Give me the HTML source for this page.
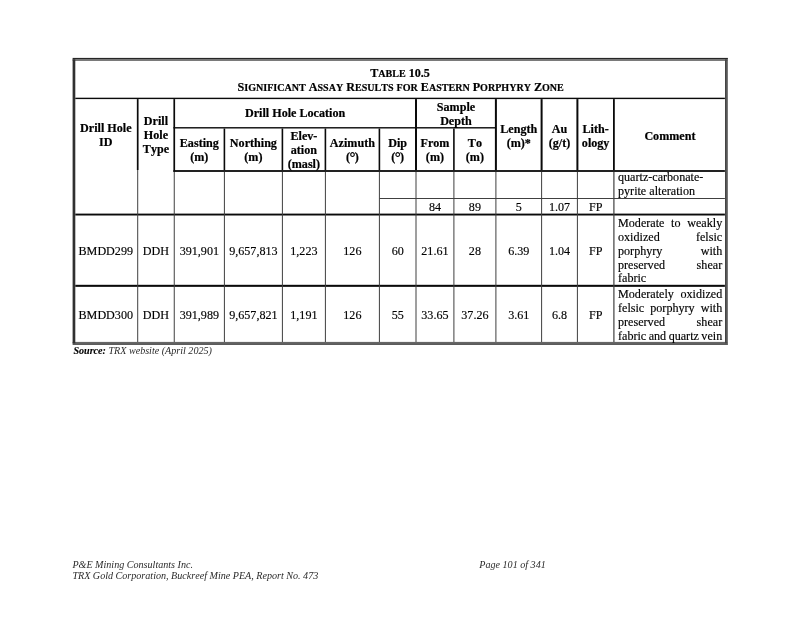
<!DOCTYPE html>
<html lang="en"><head><meta charset="utf-8"><title>Table 10.5</title><style>
html,body{margin:0;padding:0;background:#fff}
body{width:800px;height:618px;position:relative;overflow:hidden;font-family:"Liberation Serif",serif;font-size:12.12px;line-height:14px;color:#000;font-kerning:none;-webkit-text-stroke:0.15px #000}
svg{position:absolute;left:0;top:0}
.c{position:absolute;height:14px;text-align:center;white-space:nowrap}
.b{font-weight:bold;color:#000;-webkit-text-stroke:0.2px #000}
.s{font-size:10.05px}
.cm{position:absolute;height:14px;white-space:nowrap}
.j{text-align:justify;text-align-last:justify;white-space:normal}
.sq{word-spacing:-0.57px}
.f{position:absolute;font-size:10.1px;line-height:11px;height:11px;font-style:italic;white-space:nowrap;color:#2a2a2a;-webkit-text-stroke:0}
.f b{color:#000;-webkit-text-stroke:0.1px #000}
.dg{font-size:15px;line-height:0;position:relative;top:1.3px;margin:0 -0.6px}
</style></head>
<body>
<svg width="800" height="618" viewBox="0 0 800 618">
<rect x="72.60" y="57.90" width="655.30" height="1.40" fill="#262626"/>
<rect x="72.60" y="59.30" width="655.30" height="1.50" fill="#5a5a5a"/>
<rect x="72.60" y="341.90" width="655.30" height="1.40" fill="#666"/>
<rect x="72.60" y="343.30" width="655.30" height="1.50" fill="#333"/>
<rect x="72.60" y="59.30" width="2.70" height="284.00" fill="#303030"/>
<rect x="725.00" y="59.30" width="1.90" height="284.00" fill="#444"/>
<rect x="726.90" y="59.30" width="1.00" height="284.00" fill="#6a6a6a"/>
<rect x="75.30" y="97.70" width="649.60" height="1.40" fill="#0a0a0a"/>
<rect x="173.40" y="127.10" width="322.50" height="1.40" fill="#0a0a0a"/>
<rect x="173.40" y="170.10" width="551.50" height="1.80" fill="#0a0a0a"/>
<rect x="379.40" y="198.00" width="345.50" height="1.00" fill="#404040"/>
<rect x="75.30" y="213.60" width="649.60" height="1.90" fill="#0a0a0a"/>
<rect x="75.30" y="284.80" width="649.60" height="2.05" fill="#0a0a0a"/>
<rect x="136.85" y="99.10" width="1.70" height="70.90" fill="#0a0a0a"/>
<rect x="173.40" y="99.10" width="1.70" height="72.80" fill="#0a0a0a"/>
<rect x="223.60" y="128.50" width="1.60" height="41.60" fill="#0a0a0a"/>
<rect x="281.60" y="128.50" width="1.60" height="41.60" fill="#0a0a0a"/>
<rect x="324.60" y="128.50" width="1.60" height="41.60" fill="#0a0a0a"/>
<rect x="378.60" y="128.50" width="1.60" height="41.60" fill="#0a0a0a"/>
<rect x="453.10" y="128.50" width="1.60" height="41.60" fill="#0a0a0a"/>
<rect x="415.00" y="99.10" width="2.00" height="71.00" fill="#0a0a0a"/>
<rect x="494.90" y="99.10" width="2.00" height="71.00" fill="#0a0a0a"/>
<rect x="540.60" y="99.10" width="2.00" height="71.00" fill="#0a0a0a"/>
<rect x="576.40" y="99.10" width="2.00" height="71.00" fill="#0a0a0a"/>
<rect x="613.00" y="99.10" width="1.80" height="71.00" fill="#0a0a0a"/>
<rect x="137.20" y="170.00" width="1.00" height="172.00" fill="#404040"/>
<rect x="173.75" y="171.90" width="1.00" height="170.10" fill="#404040"/>
<rect x="223.90" y="171.90" width="1.00" height="170.10" fill="#404040"/>
<rect x="281.90" y="171.90" width="1.00" height="170.10" fill="#404040"/>
<rect x="324.90" y="171.90" width="1.00" height="170.10" fill="#404040"/>
<rect x="378.90" y="171.90" width="1.00" height="170.10" fill="#404040"/>
<rect x="415.50" y="171.90" width="1.00" height="170.10" fill="#404040"/>
<rect x="453.40" y="171.90" width="1.00" height="170.10" fill="#404040"/>
<rect x="495.40" y="171.90" width="1.00" height="170.10" fill="#404040"/>
<rect x="541.10" y="171.90" width="1.00" height="170.10" fill="#404040"/>
<rect x="576.90" y="171.90" width="1.00" height="170.10" fill="#404040"/>
<rect x="613.30" y="171.90" width="1.20" height="170.10" fill="#404040"/>
</svg>
<div class="c b" style="left:75.30px;top:66px;width:649.60px">T<span class="s">ABLE</span> 10.5</div>
<div class="c b" style="left:76.50px;top:80px;width:648.40px">S<span class="s">IGNIFICANT</span> A<span class="s">SSAY</span> R<span class="s">ESULTS</span> <span class="s">FOR</span> E<span class="s">ASTERN</span> P<span class="s">ORPHYRY</span> Z<span class="s">ONE</span></div>
<div class="c b" style="left:73.90px;top:121px;width:63.80px">Drill Hole</div>
<div class="c b" style="left:73.90px;top:135px;width:63.80px">ID</div>
<div class="c b" style="left:137.70px;top:114px;width:36.55px">Drill</div>
<div class="c b" style="left:137.70px;top:128px;width:36.55px">Hole</div>
<div class="c b" style="left:137.70px;top:142px;width:36.55px">Type</div>
<div class="c b" style="left:174.25px;top:106px;width:241.75px">Drill Hole Location</div>
<div class="c b" style="left:416.00px;top:100px;width:79.90px">Sample</div>
<div class="c b" style="left:416.00px;top:114px;width:79.90px">Depth</div>
<div class="c b" style="left:174.25px;top:136px;width:50.15px">Easting</div>
<div class="c b" style="left:174.25px;top:150px;width:50.15px">(m)</div>
<div class="c b" style="left:224.40px;top:136px;width:58.00px">Northing</div>
<div class="c b" style="left:224.40px;top:150px;width:58.00px">(m)</div>
<div class="c b" style="left:282.40px;top:129px;width:43.00px">Elev-</div>
<div class="c b" style="left:282.40px;top:143px;width:43.00px">ation</div>
<div class="c b" style="left:282.40px;top:157px;width:43.00px">(masl)</div>
<div class="c b" style="left:325.40px;top:136px;width:54.00px">Azimuth</div>
<div class="c b" style="left:325.40px;top:150px;width:54.00px">(<span class="dg">°</span>)</div>
<div class="c b" style="left:379.40px;top:136px;width:36.60px">Dip</div>
<div class="c b" style="left:379.40px;top:150px;width:36.60px">(<span class="dg">°</span>)</div>
<div class="c b" style="left:416.00px;top:136px;width:37.90px">From</div>
<div class="c b" style="left:416.00px;top:150px;width:37.90px">(m)</div>
<div class="c b" style="left:453.90px;top:136px;width:42.00px">To</div>
<div class="c b" style="left:453.90px;top:150px;width:42.00px">(m)</div>
<div class="c b" style="left:495.90px;top:122px;width:45.70px">Length</div>
<div class="c b" style="left:495.90px;top:136px;width:45.70px">(m)*</div>
<div class="c b" style="left:541.60px;top:122px;width:35.80px">Au</div>
<div class="c b" style="left:541.60px;top:136px;width:35.80px">(g/t)</div>
<div class="c b" style="left:577.40px;top:122px;width:36.50px">Lith-</div>
<div class="c b" style="left:577.40px;top:136px;width:36.50px">ology</div>
<div class="c b" style="left:613.90px;top:129px;width:112.10px">Comment</div>
<div class="c " style="left:416.00px;top:200px;width:37.90px">84</div>
<div class="c " style="left:453.90px;top:200px;width:42.00px">89</div>
<div class="c " style="left:495.90px;top:200px;width:45.70px">5</div>
<div class="c " style="left:541.60px;top:200px;width:35.80px">1.07</div>
<div class="c " style="left:577.40px;top:200px;width:36.50px">FP</div>
<div class="c " style="left:73.90px;top:244px;width:63.80px">BMDD299</div>
<div class="c " style="left:137.70px;top:244px;width:36.55px">DDH</div>
<div class="c " style="left:174.25px;top:244px;width:50.15px">391,901</div>
<div class="c " style="left:224.40px;top:244px;width:58.00px">9,657,813</div>
<div class="c " style="left:282.40px;top:244px;width:43.00px">1,223</div>
<div class="c " style="left:325.40px;top:244px;width:54.00px">126</div>
<div class="c " style="left:379.40px;top:244px;width:36.60px">60</div>
<div class="c " style="left:416.00px;top:244px;width:37.90px">21.61</div>
<div class="c " style="left:453.90px;top:244px;width:42.00px">28</div>
<div class="c " style="left:495.90px;top:244px;width:45.70px">6.39</div>
<div class="c " style="left:541.60px;top:244px;width:35.80px">1.04</div>
<div class="c " style="left:577.40px;top:244px;width:36.50px">FP</div>
<div class="c " style="left:73.90px;top:308px;width:63.80px">BMDD300</div>
<div class="c " style="left:137.70px;top:308px;width:36.55px">DDH</div>
<div class="c " style="left:174.25px;top:308px;width:50.15px">391,989</div>
<div class="c " style="left:224.40px;top:308px;width:58.00px">9,657,821</div>
<div class="c " style="left:282.40px;top:308px;width:43.00px">1,191</div>
<div class="c " style="left:325.40px;top:308px;width:54.00px">126</div>
<div class="c " style="left:379.40px;top:308px;width:36.60px">55</div>
<div class="c " style="left:416.00px;top:308px;width:37.90px">33.65</div>
<div class="c " style="left:453.90px;top:308px;width:42.00px">37.26</div>
<div class="c " style="left:495.90px;top:308px;width:45.70px">3.61</div>
<div class="c " style="left:541.60px;top:308px;width:35.80px">6.8</div>
<div class="c " style="left:577.40px;top:308px;width:36.50px">FP</div>
<div class="cm n" style="left:618.0px;top:170px;width:104.20px">quartz-carbonate-</div>
<div class="cm n" style="left:618.0px;top:184px;width:104.20px">pyrite alteration</div>
<div class="cm j" style="left:618.0px;top:216px;width:104.20px">Moderate to weakly</div>
<div class="cm j" style="left:618.0px;top:230px;width:104.20px">oxidized felsic</div>
<div class="cm j" style="left:618.0px;top:244px;width:104.20px">porphyry with</div>
<div class="cm j" style="left:618.0px;top:258px;width:104.20px">preserved shear</div>
<div class="cm n" style="left:618.0px;top:271px;width:104.20px">fabric</div>
<div class="cm j" style="left:618.0px;top:287px;width:104.20px">Moderately oxidized</div>
<div class="cm j" style="left:618.0px;top:301px;width:104.20px">felsic porphyry with</div>
<div class="cm j" style="left:618.0px;top:315px;width:104.20px">preserved shear</div>
<div class="cm sq" style="left:618.0px;top:329px;width:104.20px">fabric and quartz vein</div>
<div class="f" style="left:73.4px;top:345px"><b>Source:</b> TRX website (April 2025)</div>
<div class="f" style="left:72.4px;top:559px">P&amp;E Mining Consultants Inc.</div>
<div class="f" style="left:72.4px;top:570px">TRX Gold Corporation, Buckreef Mine PEA, Report No. 473</div>
<div class="f" style="left:479.3px;top:559px">Page 101 of 341</div>
</body></html>
